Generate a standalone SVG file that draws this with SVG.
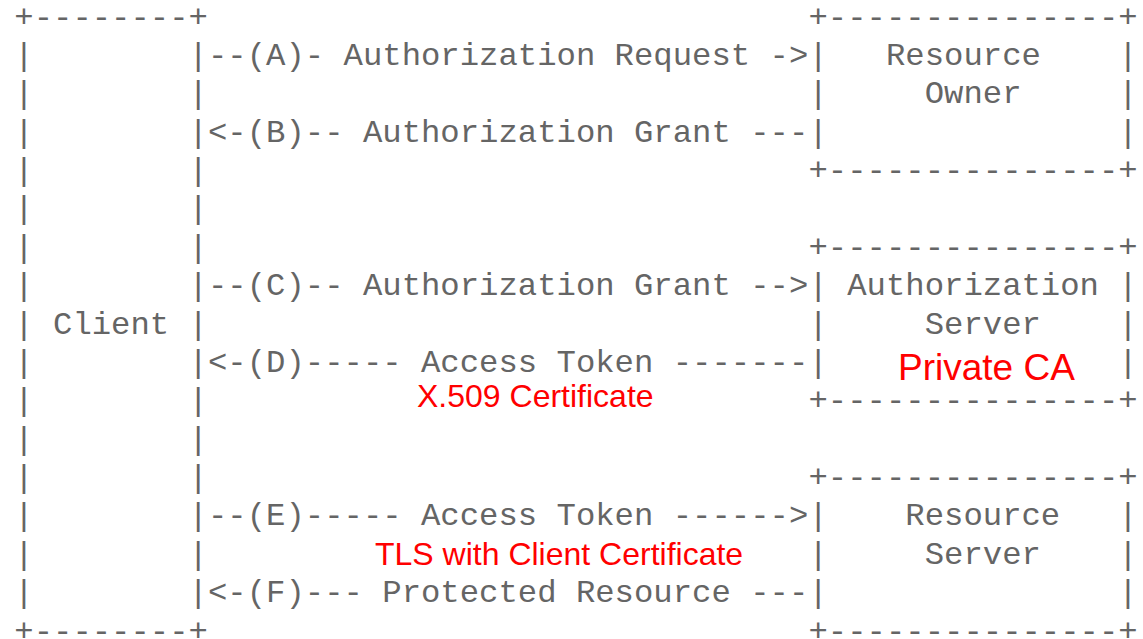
<svg xmlns="http://www.w3.org/2000/svg" width="1143" height="639" viewBox="0 0 1143 639">
<style>
.m{font-family:"Courier New","Liberation Mono",monospace;font-size:32.28px;fill:#656565;white-space:pre}
.r{font-family:"Liberation Sans",Arial,sans-serif;fill:#ff0000}
</style>
<rect width="1143" height="639" fill="#ffffff"/>
<g id="client">
<text class="m" xml:space="preserve" x="14.3" y="26.6">+--------+</text>
<text class="m" xml:space="preserve" x="14.3" y="64.98">|        |</text>
<text class="m" xml:space="preserve" x="14.3" y="103.35">|        |</text>
<text class="m" xml:space="preserve" x="14.3" y="141.73">|        |</text>
<text class="m" xml:space="preserve" x="14.3" y="180.1">|        |</text>
<text class="m" xml:space="preserve" x="14.3" y="218.48">|        |</text>
<text class="m" xml:space="preserve" x="14.3" y="256.85">|        |</text>
<text class="m" xml:space="preserve" x="14.3" y="295.23">|        |</text>
<text class="m" xml:space="preserve" x="14.3" y="333.6">| Client |</text>
<text class="m" xml:space="preserve" x="14.3" y="371.98">|        |</text>
<text class="m" xml:space="preserve" x="14.3" y="410.35">|        |</text>
<text class="m" xml:space="preserve" x="14.3" y="448.73">|        |</text>
<text class="m" xml:space="preserve" x="14.3" y="487.1">|        |</text>
<text class="m" xml:space="preserve" x="14.3" y="525.48">|        |</text>
<text class="m" xml:space="preserve" x="14.3" y="563.85">|        |</text>
<text class="m" xml:space="preserve" x="14.3" y="602.23">|        |</text>
<text class="m" xml:space="preserve" x="14.3" y="640.6">+--------+</text>
</g>
<g id="connectors">
<text class="m" xml:space="preserve" x="208.0" y="64.98">--(A)- Authorization Request -&gt;</text>
<text class="m" xml:space="preserve" x="208.0" y="141.73">&lt;-(B)-- Authorization Grant ---</text>
<text class="m" xml:space="preserve" x="208.0" y="295.23">--(C)-- Authorization Grant --&gt;</text>
<text class="m" xml:space="preserve" x="208.0" y="371.98">&lt;-(D)----- Access Token -------</text>
<text class="m" xml:space="preserve" x="208.0" y="525.48">--(E)----- Access Token ------&gt;</text>
<text class="m" xml:space="preserve" x="208.0" y="602.23">&lt;-(F)--- Protected Resource ---</text>
<text class="r" x="417" y="407" font-size="32">X.509 Certificate</text>
<text class="r" x="375" y="565" font-size="32">TLS with Client Certificate</text>
</g>
<g id="resource-owner">
<text class="m" xml:space="preserve" x="808.5" y="26.6">+---------------+</text>
<text class="m" xml:space="preserve" x="808.5" y="64.98">|   Resource    |</text>
<text class="m" xml:space="preserve" x="808.5" y="103.35">|     Owner     |</text>
<text class="m" xml:space="preserve" x="808.5" y="141.73">|               |</text>
<text class="m" xml:space="preserve" x="808.5" y="180.1">+---------------+</text>
</g>
<g id="authorization-server">
<text class="m" xml:space="preserve" x="808.5" y="256.85">+---------------+</text>
<text class="m" xml:space="preserve" x="808.5" y="295.23">| Authorization |</text>
<text class="m" xml:space="preserve" x="808.5" y="333.6">|     Server    |</text>
<text class="m" xml:space="preserve" x="808.5" y="371.98">|               |</text>
<text class="m" xml:space="preserve" x="808.5" y="410.35">+---------------+</text>
<text class="r" x="898" y="380" font-size="37">Private CA</text>
</g>
<g id="resource-server">
<text class="m" xml:space="preserve" x="808.5" y="487.1">+---------------+</text>
<text class="m" xml:space="preserve" x="808.5" y="525.48">|    Resource   |</text>
<text class="m" xml:space="preserve" x="808.5" y="563.85">|     Server    |</text>
<text class="m" xml:space="preserve" x="808.5" y="602.23">|               |</text>
<text class="m" xml:space="preserve" x="808.5" y="640.6">+---------------+</text>
</g>
</svg>
